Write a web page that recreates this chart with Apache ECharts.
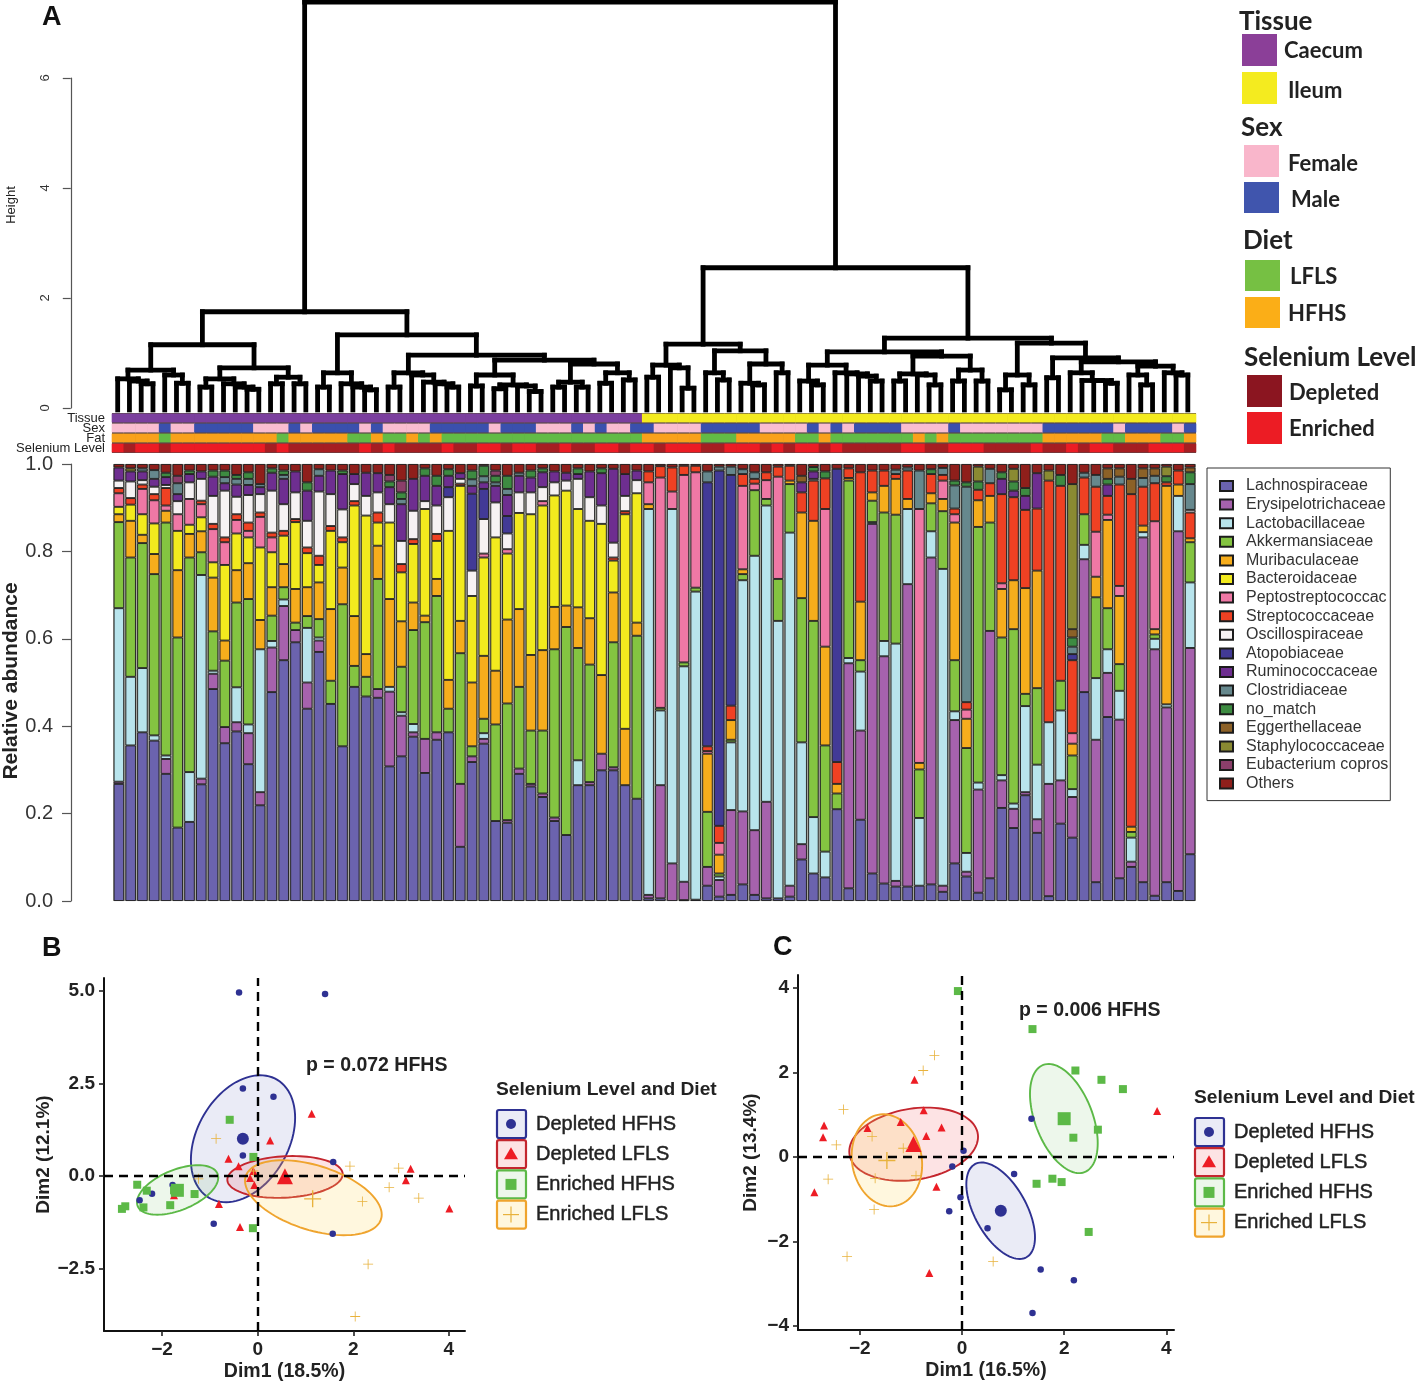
<!DOCTYPE html>
<html><head><meta charset="utf-8">
<style>html,body{margin:0;padding:0;background:#fff}#c{width:1418px;height:1387px}</style>
<script src="https://cdn.jsdelivr.net/npm/echarts@6/dist/echarts.min.js"></script>
</head><body><div id="c"></div>
<script>
// ---------- panel A: taxa (stack order bottom to top) ----------
const taxa = ['Lachnospiraceae','Erysipelotrichaceae','Lactobacillaceae','Akkermansiaceae','Muribaculaceae','Bacteroidaceae','Peptostreptococcac','Streptococcaceae','Oscillospiraceae','Atopobiaceae','Ruminococcaceae','Clostridiaceae','no_match','Eggerthellaceae','Staphylococcaceae','Eubacterium copros','Others'];
const taxaColors = ['#6b63ae','#a662ad','#b8e4ec','#84c441','#f6ad1c','#f2ea1e','#ef78a5','#ef4123','#f6f2f3','#423a96','#6e2e90','#66888d','#3d8b41','#8c6127','#8a8a32','#8b3f6a','#8f1f1b'];
// upper edge of each taxon in each sample (columns follow `taxa`; blank = absent; remainder to 1.0 = Others)
const caecumEdges = [
[.268,.273,.67,.867,.885,.902,.933,.945,.962,,.992],
[.356,,.513,.786,.87,.907,,.922,.96,,.983,,,,.99],
[.386,,.533,.819,.838,.885,.943,.953,.963,,.983,.99],
[.367,,.379,.748,.794,.864,.917,.931,.948,,.966,.986],
[.291,.325,.333,.866,.893,,.905,.945,.952,,.97,,.98],
[.168,,,.603,.757,.847,.885,,.915,,.931,.956,,,,.973],
[.181,,.295,.786,.84,.861,.92,,.958,,.977,,.985],
[.267,.28,.746,.798,.846,.878,.908,.916,.966,,.983],
[.485,.52,.527,.617,.74,.775,.851,.863,.927,,.971,,.985],
[.361,.398,,.55,.596,.769,.821,.832,.939,,.956,.97,.985],
[.388,.409,.489,.683,.757,.841,.872,.885,.925,,.953,.966,.975],
[.313,.384,.404,.691,.773,.832,.847,.866,.929,,.952,.966,.981],
[.219,.249,.576,,.643,.809,.879,.889,.931,,.947,.954],
[.478,.58,.595,.653,.718,.798,.832,.843,.939,,.98,,.99],
[.551,.675,.69,.718,.771,.836,,.847,.908,,.966,.975,.985],
[.592,.62,,.637,.714,.867,,.874,.935,,.983],
[.44,.5,.625,.652,.718,.796,,.809,.87,,.939,,.958],
[.57,.596,.603,.645,.729,.769,,.79,.937,,.973,.988],
[.451,,,.504,.668,.847,,.858,.931,,.985],
[.354,,,.679,.763,.821,,.832,.896,,.977,,.985],
[.49,,,.538,.652,.905,,.915,.954,,.977],
[.468,,,.513,.565,.882,,,.927,,.98],
[.465,.485,,.737,.813,.866,,.889,.935,,.979],
[.308,.479,.49,,.691,.866,,,.908,,.947,,.96,,,.975],
[.331,.424,.432,.536,.64,.752,,.771,.824,,.908,.92,.935,,,.962],
[.376,.386,.405,.62,.683,.817,,.828,.893,,.966],
[.293,.371,,.638,.653,.897,,,.915,,.973,,.99],
[.369,.386,,.698,.737,.824,,.84,.905,,.95,,.973],
[.386,,,.44,.506,.847,,,.924,.947,.973,,.988],
[.124,.268,,.567,.641,.95,,.955,.966,,.979],
[.318,.331,,.354,.5,.698,,,.756,.932,.95,.965,.985],
[.36,.371,.384,.417,.561,.786,.795,,.874,.943,.958,.972,.996],
[.183,,,.404,.527,.832,,,.912,,.95,.958,.973,,,.985],
[.179,.185,,.452,.644,.795,.805,,.841,.881,.929,.943,.973],
[.291,.303,,.49,.668,.888,,,.935,,.973,.98],
[.262,.268,,.39,.563,.885,,,.935,,.969,,.985],
[.238,.246,,.39,.574,.905,.915,,.947,,.981,,.99],
[.183,.191,,.576,.673,.928,,,.958,,.983],
[.151,,,.627,.676,.939,,,.962,,.98],
[.265,,.322,.579,.672,.897,,,.966,,.977,,.99],
[.265,.272,,.541,.647,.87,,,.924,,.983],
[.299,.337,,,.517,.863,,,.905,,.979,,.99],
[.299,.306,,.592,.706,.779,,.786,.82,,.989],
[.265,,,,.394,.885,,.892,.927,,.977],
[.234,,,.607,.637,.933,,,.963,,.985]
];
const ileumEdges = [
[.006,.014,.897,,.908,,.958,.983],
[.006,.265,.436,.442,,,.969,.995],
[,.086,.897,,,,.937,.992],
[.002,.044,.537,.546,,,.975,.996],
[.003,,.708,.717,,,.981,.996],
[.035,.078,,.204,.337,,.343,.354,,.958,,.983],
[.01,.048,.056,.063,.106,,.133,.172,,.985,,.994],
[.014,.208,.363,.369,.414,,,.447,,.975,,.994],
[.038,.205,.734,.748,.759,,.95,.977,,,,.988],
[.014,.162,.79,.94,,,.955,.966,,,,.981],
[.006,.227,.905,.92,,,.963,.981],
[.006,,.641,.737,,,.971,.994],
[.01,.035,.843,.954,.962,,,.996],
[.095,.13,.363,.693,.889,,,.935,,,.958,,,.973],
[.063,,.192,.641,.87,,,.962,.966,,.983,,.993],
[.054,,.113,.356,.582,,.897,.967,,,,,.983],
[.21,,,.246,.268,,,.318,,.989],
[.029,.544,.556,.962,.968,,,.99],
[.186,.39,.525,.551,.685,,,.981],
[.063,.863,.867,.916,.935,,,.985],
[.04,.56,.595,.889,.95,,,.985],
[.033,.046,.589,.884,.966,,,.977,,,,.987],
[.033,.725,.897,,.92,,,.985,,,,.992],
[.035,,.19,.301,.316,,.897,,,,,.985],
[.038,.786,.846,.91,.933,,,.977,,,,,.988],
[.021,.035,.76,.892,.92,,.962,.975,,,,.991],
[.086,.414,.434,.551,.866,,.885,.898,,,,.951,.962],
[.056,.067,.11,.35,.417,,.438,.455,,,,.948,.958],
[.019,.255,.271,.856,.917,,,.941,,,,,.96,,.994],
[.052,.618,,.866,.927,,,.956,,,,.989],
[.213,.276,.288,.603,.714,,.727,.931,,,.966,,.981],
[.167,.211,.223,.622,.734,,,.924,,,.939,,.96,,.989],
[.242,.249,.446,.474,.716,,,.895,,,.927,,.945],
[.156,.187,.312,.487,.756,,,.898,,,.979],
[.011,.268,.409,,,,,.962,,,,,,,.985],
[.177,.276,.436,.504,,,,.95,,,,,.975],
[.145,.238,.256,.333,.36,,.384,.551,,.565,,.582,.603,.622,.954],
[.478,.782,.815,.885,,,,.969,,,,.98],
[.043,.369,.51,.695,.742,,.845,.948,,,,.975],
[.421,.522,.576,.67,.872,,.884,.927,,,.953,,.966,.99],
[.052,.415,.481,.542,.698,,.721,.953,,,,.971,,.99],
[.078,.09,.145,.158,.17,,,.931,,,,,,.966],
[.043,.832,.844,,.859,,,.948,,,,.968,,.99],
[.012,.576,.6,.61,.622,,.869,.956,,,,.973,,.99],
[.043,.443,.45,,.95,,,.958,,,,,.972,,.994],
[.023,.846,.927,,.953,,,.985],
[.107,.579,.729,.821,.83,,,.889,.895,,,.954,.981,.992]
];
// annotation tracks as run lengths, alternating states from the left
const tissueRuns = [45,47];                 // Caecum, Ileum
const sexRuns = [4,1,2,5,3,1,1,4,1,1,4,5,1,3,3,1,1,1,2,2, 4,5,4,1,1,1,1,4,4,1,7,6,1,4,1,1]; // Female, Male ...
const fatRuns = [4,1,9,1,5,2,1,2,1,1,1,17, 5,3,5,2,1,7,1,1,1,8,5,2,3,2,1];                 // HFHS, LFLS ...
const seleniumRuns = [1,1,2,1,8,1,1,6,1,1,1,4,1,2,2,1,2,2,1,2,2,1,2, 1,3,2,3,1,1,1,2,1,1,5,2,2,3,4,1,2,1,1,2,3,3,1]; // Enriched, Depleted ...
const trackNames = ['Tissue','Sex','Fat','Selenium Level'];
const trackColors = [['#7b3f9e','#f4eb1f'],['#f9bdd0','#3a50ad'],['#f9a11b','#62bb46'],['#ec1c24','#a61e22']];
// dendrogram: [height, left, right]; plain numbers are sample positions
const caecumTree = [1.75,
 [1.15,
  [.69,[.53,1,[.49,2,[.44,3,4]]],[.6,5,[.45,6,7]]],
  [.73,[.53,[.38,8,9],[.44,10,[.38,11,[.34,12,13]]]],[.56,[.44,14,15],[.44,16,17]]]],
 [1.33,
  [.64,[.38,18,19],[.44,20,[.38,21,[.33,22,23]]]],
  [.96,
   [.64,[.38,24,25],[.6,26,[.47,27,[.44,28,[.38,29,30]]]]],
   [.87,
    [.6,[.4,31,32],[.42,[.35,33,34],[.4,35,[.3,36,37]]]],
    [.8,[.47,[.38,38,39],[.38,40,41]],[.64,[.45,42,43],[.51,44,45]]]]]]];
const ileumTree = [2.55,
 [1.16,
  [.78,[.56,46,47],[.73,48,[.36,49,50]]],
  [1.04,[.64,51,[.51,52,53]],[.8,[.45,54,[.42,55,56]],[.64,57,58]]]],
 [1.27,
  [1.02,
   [.78,[.49,59,[.42,60,61]],[.64,62,[.62,63,[.58,64,[.49,65,66]]]]],
   [.945,[.62,[.49,67,68],[.6,69,[.42,70,71]]],[.69,[.49,72,73],[.49,74,75]]]],
  [1.18,
   [.6,[.33,76,77],[.42,78,79]],
   [.91,[.55,80,81],
    [.84,[.64,82,[.5,83,[.5,84,[.45,85,86]]]],[.76,[.6,87,[.42,88,89]],[.64,90,[.6,91,92]]]]]]]];
const rootHeight = 7.38;

// ---------- panel B points ----------
const groupNames = ['Depleted HFHS','Depleted LFLS','Enriched HFHS','Enriched LFLS'];
const bDepHFHS = [[-.39,4.95],[1.41,4.91],[-.31,2.36],[.33,2.14],[-.31,.56],[1.58,.38],[-1.78,-.24],[-2.21,-.47],[-2.47,-.65],[-.92,-1.28],[1.57,-1.55]];
const bDepLFLS = [[1.13,1.68],[.26,.96],[-.61,.47],[-.4,.27],[-.16,-.05],[-.07,-.24],[-.09,.14],[-1.75,-.51],[-.81,-.75],[-.37,-1.37],[3.2,.2],[3.1,-.11],[4.01,-.87]];
const bEnrHFHS = [[-.585,1.52],[-.09,.52],[-2.52,-.23],[-2.32,-.39],[-1.32,-.48],[-2.39,-.84],[-1.83,-.78],[-2.77,-.81],[-2.84,-.88],[-.1,-1.4],[-1.75,-.38]];
const bEnrLFLS = [[-.87,1.01],[1.93,.27],[2.95,.22],[2.75,-.3],[3.37,-.59],[2.19,-.68],[2.31,-2.37],[2.04,-3.78],[-.09,.14],[-1.24,-.07]];
const bMeans = [[-.31,1.01],[.57,0],[-1.68,-.38],[1.15,-.61]];
// centre x, centre y, half width, half height, correlation
const bEllipses = [[-.307,1.01,1.09,1.71,.33],[.572,-.02,1.207,.563,.13],[-1.675,-.37,.85,.667,.5],[1.165,-.58,1.43,1.01,-.45]];
// ---------- panel C points ----------
const cDepHFHS = [[.03,.15],[-.19,-.22],[-.03,-.95],[-.25,-1.28],[.5,-1.68],[1.02,-.4],[1.36,.91],[1.54,-2.66],[2.19,-2.91],[1.38,-3.69]];
const cDepLFLS = [[-.93,1.83],[-.75,1.11],[-2.7,.75],[-2.72,.47],[-1.85,.69],[-1.2,.83],[-.4,.7],[-.7,.5],[-2.89,-.83],[-.5,-.7],[-.64,-2.74],[3.82,1.09]];
const cEnrHFHS = [[-.08,3.93],[1.38,3.03],[2.22,2.05],[2.73,1.83],[3.15,1.61],[2.18,.46],[2.66,.65],[1.77,-.51],[1.46,-.63],[1.95,-.59],[2.48,-1.77]];
const cEnrLFLS = [[-.54,2.41],[-.76,2.05],[-2.32,1.13],[-2.46,.29],[-1.76,.49],[-1.15,.21],[-2.62,-.52],[-1.7,-.5],[-.9,-.44],[-1.72,-1.24],[-2.25,-2.35],[.61,-2.47]];
const cMeans = [[.76,-1.27],[-.95,.31],[2,.91],[-1.47,-.08]];
const cEllipses = [[.757,-1.268,.672,1.142,-.55],[-.946,.307,1.26,.866,.2],[1.994,.913,.663,1.291,-.45],[-1.47,-.075,.69,1.09,-.1]];
const bXTicks=[-2,0,2,4], bYTicks=[-2.5,0,2.5,5], cXTicks=[-2,0,2,4], cYTicks=[-4,-2,0,2,4];

// ---------- styling ----------
const F='"Liberation Sans",Arial,sans-serif', L='Lato,"Liberation Sans",sans-serif';
const groupColors=['#2e3192','#ed1c24','#5cb947','#e8b23c'];
const strokeColors=['#2e3192','#c4262e','#5cb947','#efa42e'];
const fillColors=['rgba(60,70,170,.11)','rgba(237,40,50,.13)','rgba(92,185,71,.11)','rgba(253,215,90,.2)'];
const plus='path://M4.6 0h.8v4.6H10v.8H5.4V10h-.8V5.4H0v-.8h4.6z';
const symbols=['circle','triangle','rect',plus];
const smallSize=[6.5,8,8,10], bigSize=[12,16,13,17];

// ---------- derive stacks ----------
const edges=caecumEdges.concat(ileumEdges);
const N=edges.length;
const samples=edges.map((_,i)=>'S'+(i+1));
const stackValues=taxa.map(()=>new Array(N).fill(null));
edges.forEach((row,i)=>{let prev=0;
  for(let t=0;t<16;t++){const v=row[t]; if(v!=null){stackValues[t][i]=+(v-prev).toFixed(3);prev=v;}}
  if(1-prev>.0005) stackValues[16][i]=+(1-prev).toFixed(3);
});
const barSeries=taxa.map((name,t)=>({name,type:'bar',stack:'a',xAxisIndex:2,yAxisIndex:2,barWidth:10.5,
  data:stackValues[t],itemStyle:{color:taxaColors[t],borderColor:'#1c1c1c',borderWidth:.9},silent:true}));

// ---------- annotation ----------
function expand(runs){const o=[];runs.forEach((r,k)=>{for(let j=0;j<r;j++)o.push(k%2);});return o;}
const tracks=[tissueRuns,sexRuns,fatRuns,seleniumRuns].map(expand);
const annoData=[];tracks.forEach((tr,y)=>tr.forEach((s,x)=>annoData.push([x,y,s])));
// ---------- dendrogram ----------
const segs=[];const leafFoot=-.035;
function walk(n){ if(typeof n==='number') return {x:n-.5,h:leafFoot};
  const a=walk(n[1]),b=walk(n[2]);
  segs.push([a.x,a.h,a.x,n[0]],[b.x,b.h,b.x,n[0]],[a.x,n[0],b.x,n[0]]);
  return {x:(a.x+b.x)/2,h:n[0]};}
walk([rootHeight,caecumTree,ileumTree]);

function ellipseSeries(rows,xi,name){
  return rows.map((r,g)=>({type:'custom',name:name+g,xAxisIndex:xi,yAxisIndex:xi,data:[r],silent:true,z:2,
    encode:{x:0,y:1},
    renderItem(p,api){
      const [cx,cy,dx,dy,rho]=r,phi=Math.acos(rho),pts=[];
      for(let k=0;k<96;k++){const t=k/96*2*Math.PI;pts.push(api.coord([cx+dx*Math.cos(t),cy+dy*Math.cos(t-phi)]));}
      return {type:'polygon',shape:{points:pts},style:{fill:fillColors[g],stroke:strokeColors[g],lineWidth:1.9}};
    }}));
}
function pointSeries(sets,means,xi){
  const out=[];
  sets.forEach((d,g)=>{
    out.push({type:'scatter',name:groupNames[g],xAxisIndex:xi,yAxisIndex:xi,data:d,symbol:symbols[g],symbolSize:smallSize[g],
      itemStyle:{color:groupColors[g],opacity:1},silent:true,z:3});
    out.push({type:'scatter',name:groupNames[g]+' mean',xAxisIndex:xi,yAxisIndex:xi,data:[means[g]],symbol:symbols[g],symbolSize:bigSize[g],
      itemStyle:{color:groupColors[g],opacity:1},silent:true,z:3});
  });
  out[0].markLine={silent:true,symbol:'none',animation:false,label:{show:false},
    lineStyle:{color:'#000',width:2.4,type:[9,6]},data:[{xAxis:0},{yAxis:0}]};
  return out;
}
function scatterAxes(gi,xr,yr,xt,yt,xn,yn,yfmt,xNameGap,yNameGap){
  const minus=v=>String(v).replace('-','\u2212');
  const common={axisLine:{onZero:false,lineStyle:{color:'#111',width:2}},axisTick:{length:5,lineStyle:{color:'#222',width:1.6}},splitLine:{show:false},
    nameLocation:'middle'};
  return {x:Object.assign({},common,{type:'value',gridIndex:gi,min:xr[0],max:xr[1],name:xn,nameGap:xNameGap,
      nameTextStyle:{fontFamily:F,fontSize:19.5,fontWeight:'bold',color:'#222'},
      axisTick:Object.assign({},common.axisTick,{customValues:xt}),
      axisLabel:{customValues:xt,formatter:v=>minus(v),fontFamily:F,fontSize:19,fontWeight:'bold',color:'#222',margin:9}}),
    y:Object.assign({},common,{type:'value',gridIndex:gi,min:yr[0],max:yr[1],name:yn,nameGap:yNameGap,
      nameTextStyle:{fontFamily:F,fontSize:19,fontWeight:'bold',color:'#222'},
      axisTick:Object.assign({},common.axisTick,{customValues:yt}),
      axisLabel:{customValues:yt,formatter:v=>minus(yfmt(v)),fontFamily:F,fontSize:19,fontWeight:'bold',color:'#222',margin:9}})};
}
const bAx=scatterAxes(3,[-3.215,4.337],[-4.17,5.34],bXTicks,bYTicks,'Dim1 (18.5%)','Dim2 (12.1%)',v=>v.toFixed(1),31,51);
const cAx=scatterAxes(4,[-3.21,4.15],[-4.09,4.31],cXTicks,cYTicks,'Dim1 (16.5%)','Dim2 (13.4%)',v=>String(v),31,38);

// ---------- graphic text & keys ----------
const g=[];
function txt(x,y,s,size,weight,fam,col,thick){g.push({type:'text',x,y,silent:true,style:{text:s,fontSize:size,fontWeight:weight||'normal',fontFamily:fam||F,fill:col||'#222',
  verticalAlign:'middle',stroke:thick?(col||'#222'):null,lineWidth:thick||0}});}
function sw(x,y,w,h,c){g.push({type:'rect',silent:true,shape:{x,y,width:w,height:h},style:{fill:c}});}
txt(42,18,'A',27,'bold',F,'#111');txt(42,949,'B',27,'bold',F,'#111');txt(773,948,'C',27,'bold',F,'#111');
txt(1239,22,'Tissue',26,'bold',L);txt(1241,128,'Sex',26,'bold',L);txt(1243,241,'Diet',26,'bold',L);txt(1244,358,'Selenium Level',26,'bold',L);
[[1242,34,32,'#8b3f98','Caecum',1284,51],[1242,72,32,'#f4eb1f','Ileum',1288,91],[1244,145,32,'#f9b6cb','Female',1288,164],[1244,182,31,'#4055ad','Male',1291,200],
 [1245,260,31,'#76c043','LFLS',1290,277],[1245,297,31,'#fbae17','HFHS',1288,314],[1247,375,32,'#8b1520','Depleted',1289,393],[1247,412,32,'#ec1c24','Enriched',1289,429]]
 .forEach(r=>{sw(r[0],r[1],35,r[2],r[3]);txt(r[5],r[6],r[4],22,'bold',L);});
txt(306,1066,'p = 0.072 HFHS',19.5,'bold');txt(1019,1011,'p = 0.006 HFHS',19.5,'bold');
function keys(x,titleY,firstY){
  txt(x,titleY,'Selenium Level and Diet',19.2,'bold');
  groupNames.forEach((n,i)=>{const cy=firstY+i*30.2,cx=x+15;
    g.push({type:'rect',silent:true,shape:{x:x+1,y:cy-14,width:29,height:28,r:2},style:{fill:fillColors[i],stroke:strokeColors[i],lineWidth:2.2}});
    if(i==0)g.push({type:'circle',silent:true,shape:{cx,cy,r:5},style:{fill:groupColors[0]}});
    if(i==1)g.push({type:'polygon',silent:true,shape:{points:[[cx,cy-7],[cx+7,cy+5],[cx-7,cy+5]]},style:{fill:groupColors[1]}});
    if(i==2)g.push({type:'rect',silent:true,shape:{x:cx-5.5,y:cy-5.5,width:11,height:11},style:{fill:groupColors[2]}});
    if(i==3){g.push({type:'line',silent:true,shape:{x1:cx-8,y1:cy,x2:cx+8,y2:cy},style:{stroke:groupColors[3],lineWidth:1.2}});
             g.push({type:'line',silent:true,shape:{x1:cx,y1:cy-8,x2:cx,y2:cy+8},style:{stroke:groupColors[3],lineWidth:1.2}});}
    txt(x+40,cy,n,20,'normal',F,'#222',.45);
  });
}
keys(496,1090,1124);keys(1194,1098,1132);
g.push({type:'text',x:11,y:205,rotation:Math.PI/2,silent:true,style:{text:'Height',fontSize:13,fontFamily:F,fill:'#222',align:'center',verticalAlign:'middle'}});
g.push({type:'text',x:11,y:681,rotation:Math.PI/2,silent:true,style:{text:'Relative abundance',fontSize:21,fontWeight:'bold',fontFamily:F,fill:'#222',align:'center',verticalAlign:'middle'}});

const chart=echarts.init(document.getElementById('c'),null,{renderer:'canvas'});
chart.setOption({
  animation:false,backgroundColor:'#fff',
  textStyle:{fontFamily:F},
  grid:[
    {left:111.8,top:78,width:1081.9,height:330,outerBoundsMode:'none'},
    {left:112,top:413,width:1084,height:40,show:true,backgroundColor:'#5a4a4a',borderWidth:0,outerBoundsMode:'none'},
    {left:113,top:464,width:1083,height:437,show:true,backgroundColor:'#a6a69e',borderWidth:0,outerBoundsMode:'none'},
    {left:104,top:978,width:361,height:353,outerBoundsMode:'none'},
    {left:798,top:975,width:376,height:355,outerBoundsMode:'none'}
  ],
  xAxis:[
    {type:'value',gridIndex:0,min:0,max:92,show:false},
    {type:'category',gridIndex:1,data:samples,show:false},
    {type:'category',gridIndex:2,data:samples,show:false},
    bAx.x,cAx.x
  ],
  yAxis:[
    {type:'value',gridIndex:0,min:0,max:6,interval:2,offset:41,
      axisLine:{show:true,onZero:false,lineStyle:{color:'#555',width:1.2}},axisTick:{show:true,length:8,lineStyle:{color:'#555',width:1.2}},splitLine:{show:false},
      axisLabel:{rotate:90,fontSize:13,color:'#333',margin:19}},
    {type:'category',gridIndex:1,data:trackNames,inverse:true,axisLine:{show:false},axisTick:{show:false},
      axisLabel:{interval:0,fontSize:13,color:'#222',margin:7,fontFamily:F}},
    {type:'value',gridIndex:2,min:0,max:1,interval:.2,offset:42,
      axisLine:{show:true,onZero:false,lineStyle:{color:'#555',width:1.2}},axisTick:{show:true,length:9,lineStyle:{color:'#555',width:1.2}},splitLine:{show:false},
      axisLabel:{fontSize:20,color:'#333',margin:18,formatter:v=>v.toFixed(1)}},
    bAx.y,cAx.y
  ],
  legend:{data:taxa,left:1207,top:468,orient:'vertical',icon:'rect',itemWidth:13,itemHeight:10,itemGap:2.6,padding:[10,2,9,12],
    borderColor:'#333',borderWidth:1,selectedMode:false,textStyle:{fontFamily:F,fontSize:16,color:'#333',padding:[0,0,0,8]}},
  series:[
    {type:'custom',name:'dendrogram',xAxisIndex:0,yAxisIndex:0,data:segs,silent:true,clip:false,encode:{x:[0,2],y:[1,3]},
      renderItem(p,api){const a=api.coord([api.value(0),api.value(1)]),b=api.coord([api.value(2),api.value(3)]);
        return {type:'line',shape:{x1:a[0],y1:a[1],x2:b[0],y2:b[1]},style:{stroke:'#000',lineWidth:4.8,lineCap:'square'}};}},
    {type:'custom',name:'annotation',xAxisIndex:1,yAxisIndex:1,data:annoData,silent:true,encode:{x:0,y:1},
      renderItem(p,api){const x=api.value(0),y=api.value(1),s=api.value(2),c=api.coord([x,y]),sz=api.size([1,1]);
        return {type:'rect',shape:{x:c[0]-sz[0]/2-.3,y:c[1]-sz[1]/2+.6,width:sz[0]+.6,height:sz[1]-1.2},style:{fill:trackColors[y][s]}};}},
    ...barSeries,
    ...ellipseSeries(bEllipses,3,'bEll'),
    ...pointSeries([bDepHFHS,bDepLFLS,bEnrHFHS,bEnrLFLS],bMeans,3),
    ...ellipseSeries(cEllipses,4,'cEll'),
    ...pointSeries([cDepHFHS,cDepLFLS,cEnrHFHS,cEnrLFLS],cMeans,4)
  ],
  graphic:g
});
</script></body></html>
